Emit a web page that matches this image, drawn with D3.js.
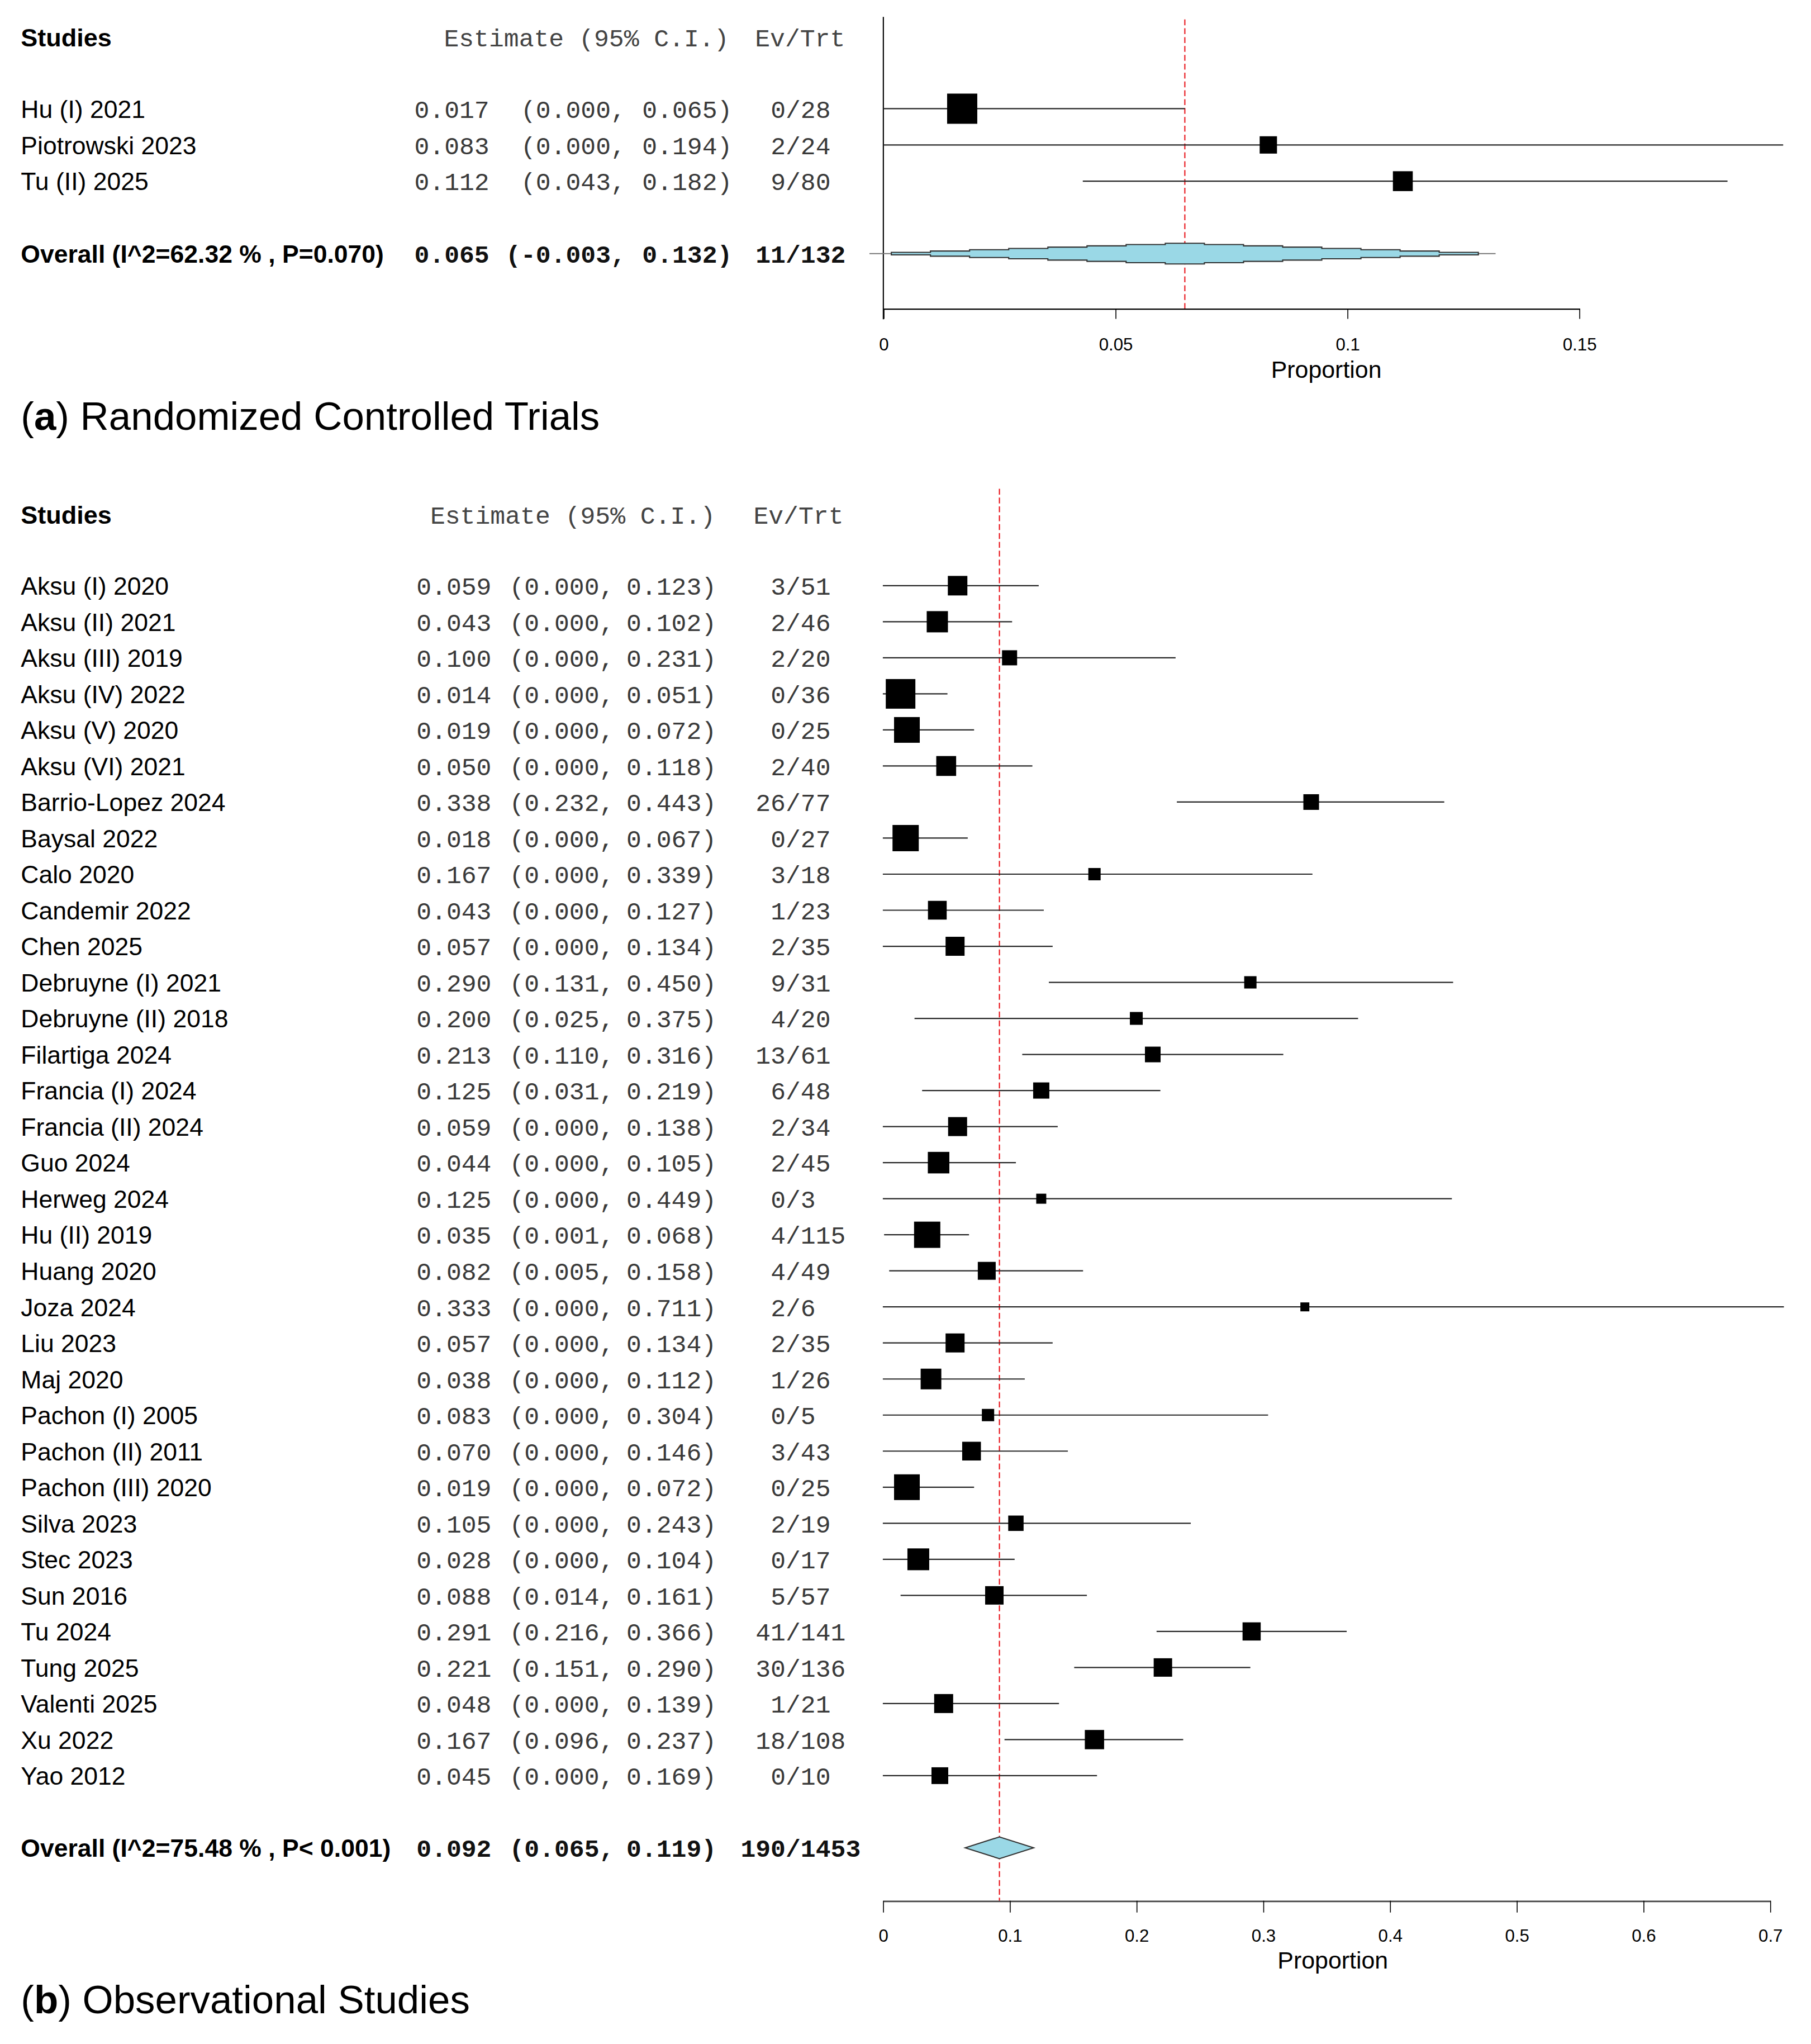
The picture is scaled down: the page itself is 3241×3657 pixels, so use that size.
<!DOCTYPE html>
<html>
<head>
<meta charset="utf-8">
<script src="https://cdn.jsdelivr.net/npm/d3@7"></script>
<style>
body{margin:0;background:#fff;}
text{font-family:"Liberation Sans",Arial,sans-serif;}
.mono{font-family:"Liberation Mono","Courier New",monospace;white-space:pre;}
</style>
</head>
<body>
<svg id="basicSVG"></svg>
<script>
// ---- (a) randomized controlled trials
var rctStudies = ["Hu (I) 2021","Piotrowski 2023","Tu (II) 2025"];
var rctEst = [0.017,0.083,0.112];
var rctLo = [0.000,0.000,0.043];
var rctHi = [0.065,0.194,0.182];
var rctEvents = [0,2,9];
var rctTotal = [28,24,80];
var rctWeight = [56.7,18.7,24.6];
var rctOverallLabel = "Overall (I^2=62.32 % , P=0.070)";
var rctOverall = [0.065,-0.003,0.132];
var rctOverallEvTrt = [11,132];
var rctTicks = [0,0.05,0.1,0.15];
var rctTickLabels = ["0","0.05","0.1","0.15"];

// ---- (b) observational studies
var obsStudies = ["Aksu (I) 2020","Aksu (II) 2021","Aksu (III) 2019","Aksu (IV) 2022","Aksu (V) 2020","Aksu (VI) 2021",
	"Barrio-Lopez 2024","Baysal 2022","Calo 2020","Candemir 2022","Chen 2025","Debruyne (I) 2021","Debruyne (II) 2018",
	"Filartiga 2024","Francia (I) 2024","Francia (II) 2024","Guo 2024","Herweg 2024","Hu (II) 2019","Huang 2020",
	"Joza 2024","Liu 2023","Maj 2020","Pachon (I) 2005","Pachon (II) 2011","Pachon (III) 2020","Silva 2023",
	"Stec 2023","Sun 2016","Tu 2024","Tung 2025","Valenti 2025","Xu 2022","Yao 2012"];
var obsEst = [0.059,0.043,0.100,0.014,0.019,0.050,0.338,0.018,0.167,0.043,0.057,0.290,0.200,0.213,0.125,0.059,0.044,
	0.125,0.035,0.082,0.333,0.057,0.038,0.083,0.070,0.019,0.105,0.028,0.088,0.291,0.221,0.048,0.167,0.045];
var obsLo = [0.000,0.000,0.000,0.000,0.000,0.000,0.232,0.000,0.000,0.000,0.000,0.131,0.025,0.110,0.031,0.000,0.000,
	0.000,0.001,0.005,0.000,0.000,0.000,0.000,0.000,0.000,0.000,0.000,0.014,0.216,0.151,0.000,0.096,0.000];
var obsHi = [0.123,0.102,0.231,0.051,0.072,0.118,0.443,0.067,0.339,0.127,0.134,0.450,0.375,0.316,0.219,0.138,0.105,
	0.449,0.068,0.158,0.711,0.134,0.112,0.304,0.146,0.072,0.243,0.104,0.161,0.366,0.290,0.139,0.237,0.169];
var obsEvents = [3,2,2,0,0,2,26,0,3,1,2,9,4,13,6,2,2,0,4,4,2,2,1,0,3,0,2,0,5,41,30,1,18,0];
var obsTotal = [51,46,20,36,25,40,77,27,18,23,35,31,20,61,48,34,45,3,115,49,6,35,26,5,43,25,19,17,57,141,136,21,108,10];
var obsWeight = [3.1,3.66,1.85,7.12,5.37,3.21,1.99,5.6,1.23,2.85,2.93,1.23,1.34,1.99,2.13,2.93,3.76,0.82,5.6,2.6,
	0.65,2.93,3.47,1.23,2.85,5.37,1.92,3.86,2.76,2.68,2.76,2.93,3.02,2.28];
var obsOverallLabel = "Overall (I^2=75.48 % , P< 0.001)";
var obsOverall = [0.092,0.065,0.119];
var obsOverallEvTrt = [190,1453];
var obsTicks = [0,0.1,0.2,0.3,0.4,0.5,0.6,0.7];
var obsTickLabels = ["0","0.1","0.2","0.3","0.4","0.5","0.6","0.7"];

var W = 1390, H = 1568.4;
var svg = d3.select("#basicSVG").attr("width",3241).attr("height",3657).attr("viewBox","0 0 "+W+" "+H);
var f3 = d3.format(".3f");
var fmt = function(v){ return f3(v).replace("\u2212","-"); };

function drawPanel(p)
{
	var g = svg.append("g");
	var x = d3.scaleLinear().domain(p.domain).range(p.range);
	var box = d3.scaleSqrt().domain([0,100]).range([0,p.boxMax]);
	var rowY = function(i){ return p.firstRow + i*p.rowStep; };
	var n = p.studies.length;
	var yOverall = rowY(n+1);
	var rows = d3.range(n);

	// header
	g.append("text").attr("x",16).attr("y",p.headY).attr("font-size",19.3).attr("font-weight","bold").text("Studies");
	g.append("text").attr("class","mono").attr("x",p.headEstX).attr("y",p.headY).attr("font-size",19.2)
		.attr("fill","#444").text("Estimate (95% C.I.)");
	g.append("text").attr("class","mono").attr("x",p.headEvX).attr("y",p.headY).attr("font-size",19.2)
		.attr("fill","#444").text("Ev/Trt");

	// left columns
	function textRow(sel, y, name, est, lo, hi, ev, tot, bold)
	{
		var t = sel.append("g").attr("font-weight",bold ? "bold" : "normal");
		var mono = bold ? "#111" : "#3a3a3a";
		t.append("text").attr("x",16).attr("y",y+7).attr("font-size",19.1).attr("fill","#000").text(name);
		t.append("text").attr("class","mono").attr("x",p.cols[0]).attr("y",y+7).attr("font-size",19.2)
			.attr("fill",mono).text(fmt(est));
		t.append("text").attr("class","mono").attr("x",p.cols[1]).attr("y",y+7).attr("font-size",19.2)
			.attr("text-anchor","end").attr("fill",mono).text("("+fmt(lo)+",");
		t.append("text").attr("class","mono").attr("x",p.cols[2]).attr("y",y+7).attr("font-size",19.2)
			.attr("fill",mono).text(fmt(hi)+")");
		t.append("text").attr("class","mono").attr("x",p.slashX).attr("y",y+7).attr("font-size",19.2)
			.attr("text-anchor","end").attr("fill",mono).text(ev);
		t.append("text").attr("class","mono").attr("x",p.slashX).attr("y",y+7).attr("font-size",19.2)
			.attr("fill",mono).text("/"+tot);
	}
	rows.forEach(function(i){
		textRow(g, rowY(i), p.studies[i], p.est[i], p.lo[i], p.hi[i], p.events[i], p.total[i], false);
	});
	textRow(g, yOverall, p.overallLabel, p.overall[0], p.overall[1], p.overall[2], p.overallEvTrt[0], p.overallEvTrt[1], true);

	// reference line at the pooled estimate
	g.append("line").attr("x1",x(p.overall[0])).attr("x2",x(p.overall[0]))
		.attr("y1",p.refTop).attr("y2",p.axisY)
		.attr("stroke","#e8141b").attr("stroke-width",0.9).attr("stroke-dasharray","4.5,2.3");

	if(p.yLine)
	{
		g.append("line").attr("x1",x(0)).attr("x2",x(0)).attr("y1",p.yLine[0]).attr("y2",p.yLine[1])
			.attr("stroke","#000").attr("stroke-width",0.9);
	}

	// confidence intervals and boxes
	g.selectAll(".ci").data(rows).enter().append("line")
		.attr("x1",function(i){ return x(p.lo[i]); })
		.attr("x2",function(i){ return x(p.hi[i]); })
		.attr("y1",rowY).attr("y2",rowY)
		.attr("stroke","#262626").attr("stroke-width",0.95);
	g.selectAll(".box").data(rows).enter().append("rect")
		.attr("x",function(i){ return x(p.est[i]) - box(p.weight[i])/2; })
		.attr("y",function(i){ return rowY(i) - box(p.weight[i])/2; })
		.attr("width",function(i){ return box(p.weight[i]); })
		.attr("height",function(i){ return box(p.weight[i]); })
		.attr("fill","#000");

	// pooled estimate
	var est = p.overall[0], lo = p.overall[1], hi = p.overall[2];
	if(p.stairs)
	{
		g.append("line").attr("x1",x(lo)).attr("x2",x(hi)).attr("y1",yOverall).attr("y2",yOverall)
			.attr("stroke","#777").attr("stroke-width",0.9);
		var step = (hi-lo)/16, half = p.diamondH/2, top = [], bot = [];
		d3.range(-7,8).forEach(function(k){
			var h = half*(1-Math.abs(k)/8);
			var xl = x(est+(k-0.5)*step), xr = x(est+(k+0.5)*step);
			top.push([xl,yOverall-h],[xr,yOverall-h]);
			bot.unshift([xr,yOverall+h],[xl,yOverall+h]);
		});
		var pts = [[top[0][0],yOverall]].concat(top).concat([[top[top.length-1][0],yOverall]]).concat(bot);
		g.append("path").attr("d",d3.line()(pts)+"Z")
			.attr("fill","#9ad8e6").attr("stroke","#333").attr("stroke-width",0.9);
	}
	else
	{
		var dpts = [[x(lo),yOverall],[x(est),yOverall-p.diamondH/2],[x(hi),yOverall],[x(est),yOverall+p.diamondH/2]];
		g.append("path").attr("d",d3.line()(dpts)+"Z")
			.attr("fill","#9ad8e6").attr("stroke","#333").attr("stroke-width",0.9);
	}

	// x axis
	var ax = g.append("g").attr("transform","translate(0,"+p.axisY+")")
		.call(d3.axisBottom(x).tickValues(p.ticks).tickFormat(function(d,i){ return p.tickLabels[i]; })
			.tickSize(p.tickLen).tickSizeOuter(0).tickPadding(p.tickPad));
	ax.attr("font-family","Liberation Sans, Arial, sans-serif").attr("font-size",13.4);
	ax.select(".domain").attr("stroke",p.axisColor).attr("stroke-width",p.axisWidth);
	ax.selectAll(".tick line").attr("stroke","#000").attr("stroke-width",0.7);
	ax.selectAll(".tick text").attr("fill","#000");

	g.append("text").attr("x",p.xLabelX).attr("y",p.xLabelY).attr("text-anchor","middle")
		.attr("font-size",18.4).text("Proportion");

	// panel caption
	var cap = g.append("text").attr("x",16).attr("y",p.capY).attr("font-size",30.4);
	cap.append("tspan").text("(");
	cap.append("tspan").attr("font-weight","bold").text(p.capLetter);
	cap.append("tspan").text(") "+p.capText);
}

drawPanel({
	studies:rctStudies, est:rctEst, lo:rctLo, hi:rctHi, events:rctEvents, total:rctTotal, weight:rctWeight,
	overallLabel:rctOverallLabel, overall:rctOverall, overallEvTrt:rctOverallEvTrt,
	ticks:rctTicks, tickLabels:rctTickLabels,
	domain:[0,0.15], range:[678,1212], boxMax:30.75,
	firstRow:83.4, rowStep:27.8, headY:35.5, headEstX:340.7, headEvX:579.5,
	cols:[318,480.3,492.9], slashX:603,
	refTop:14.9, axisY:236.7, yLine:[13,245], tickLen:8, tickPad:14.5,
	axisColor:"#000", axisWidth:0.9,
	stairs:true, diamondH:15.9,
	xLabelX:1018, xLabelY:290, capY:330, capLetter:"a", capText:"Randomized Controlled Trials"
});

drawPanel({
	studies:obsStudies, est:obsEst, lo:obsLo, hi:obsHi, events:obsEvents, total:obsTotal, weight:obsWeight,
	overallLabel:obsOverallLabel, overall:obsOverall, overallEvTrt:obsOverallEvTrt,
	ticks:obsTicks, tickLabels:obsTickLabels,
	domain:[0,0.7], range:[677.6,1358.5], boxMax:85.16,
	firstRow:449.4, rowStep:27.67, headY:402, headEstX:330.2, headEvX:578.3,
	cols:[319.6,471.5,480.8], slashX:603,
	refTop:375, axisY:1458.5, yLine:null, tickLen:9, tickPad:13,
	axisColor:"#444", axisWidth:1.2,
	stairs:false, diamondH:16.7,
	xLabelX:1023, xLabelY:1510.5, capY:1545, capLetter:"b", capText:"Observational Studies"
});
</script>
</body>
</html>
